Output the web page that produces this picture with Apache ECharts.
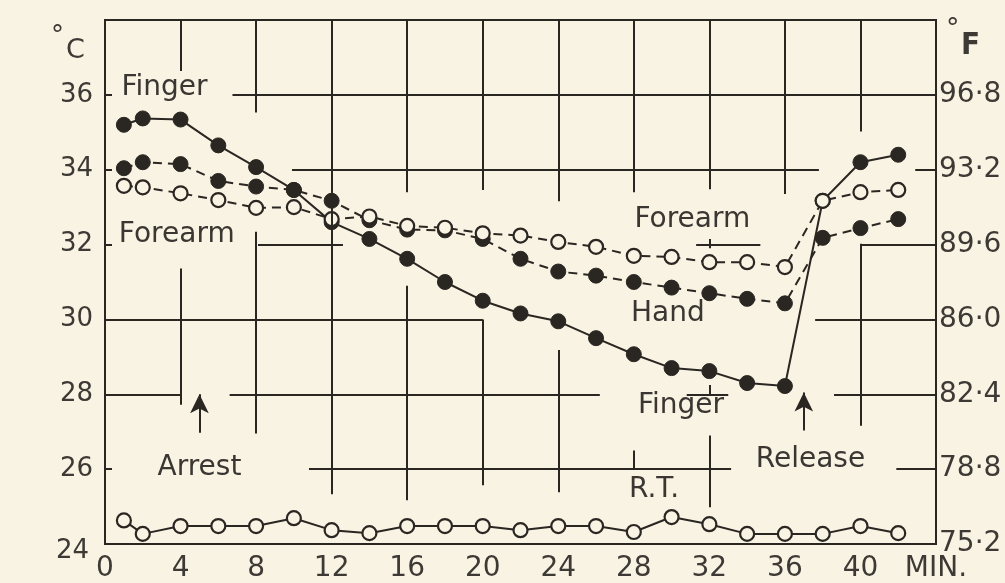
<!DOCTYPE html>
<html>
<head>
<meta charset="utf-8">
<script src="https://cdn.jsdelivr.net/npm/echarts@6/dist/echarts.min.js"></script>
<style>
  html, body { margin: 0; padding: 0; background: #f9f3e3; }
  #chart { width: 1005px; height: 583px; }
</style>
</head>
<body>
<div id="chart"></div>
<script>
// Time of each reading (minutes)
const minutes = [1, 2, 4, 6, 8, 10, 12, 14, 16, 18, 20, 22, 24, 26, 28, 30, 32, 34, 36, 38, 40, 42];

// Skin and room temperatures (°C)
const finger  = [35.2, 35.37, 35.34, 34.65, 34.07, 33.46, 32.6, 32.15, 31.62, 31.0, 30.5, 30.16, 29.95, 29.5, 29.07, 28.7, 28.62, 28.3, 28.22, 33.17, 34.2, 34.4];
const hand    = [34.04, 34.2, 34.15, 33.7, 33.55, 33.46, 33.17, 32.65, 32.4, 32.38, 32.15, 31.62, 31.28, 31.17, 31.0, 30.85, 30.7, 30.55, 30.43, 32.18, 32.44, 32.68];
const forearm = [33.57, 33.53, 33.37, 33.19, 32.98, 33.0, 32.68, 32.75, 32.5, 32.45, 32.3, 32.24, 32.07, 31.94, 31.7, 31.67, 31.53, 31.53, 31.4, 33.17, 33.4, 33.46];
const roomTemp = [24.63, 24.27, 24.48, 24.48, 24.48, 24.69, 24.37, 24.29, 24.48, 24.48, 24.48, 24.37, 24.48, 24.48, 24.32, 24.72, 24.53, 24.27, 24.27, 24.27, 24.48, 24.29];

// Tick labels
const xTickLabels = ['0', '4', '8', '12', '16', '20', '24', '28', '32', '36', '40', 'MIN.'];
const celsiusTicks = ['24', '26', '28', '30', '32', '34', '36', ''];
const fahrenheitTicks = ['75·2', '78·8', '82·4', '86·0', '89·6', '93·2', '96·8', ''];

// Arrest / release moments (minutes)
const arrestAt = 5;
const releaseAt = 37;

// Curve names written on the plot: [text, minute, °C]
const curveNotes = [
  ['Finger', 3.15, 36.2],
  ['Forearm', 3.8, 32.27],
  ['Forearm', 31.1, 32.66],
  ['Hand', 29.8, 30.16],
  ['Finger', 30.5, 27.7],
  ['Arrest', 5.0, 26.03],
  ['Release', 37.35, 26.24],
  ['R.T.', 29.07, 25.44]
];

// Ruled paper: the grid is drawn as broken rules, in axis units
const ruleH = [
  [36, 6.75, 44],
  [34, 9.9, 37.8], [34, 42.9, 44],
  [32, 8.1, 12.6], [32, 31.3, 34.7], [32, 40, 44],
  [30, 0, 20], [30, 37.6, 44],
  [28, 0, 4], [28, 6.6, 26.2], [28, 30.8, 33.0], [28, 38.6, 44],
  [26, 10.8, 33.15], [26, 41.9, 44]
];
const ruleV = [
  [4, 38, 36.64], [4, 31.36, 27.72],
  [8, 38, 35.53], [8, 32.34, 26.95],
  [12, 38, 25.33],
  [16, 38, 33.4], [16, 30.9, 25.17],
  [20, 38, 33.46], [20, 30, 25.57],
  [24, 38, 33.16], [24, 29.18, 25.38],
  [28, 38, 33.4], [28, 26.5, 26],
  [32, 38, 33.48], [32, 32.15, 31.9], [32, 28.25, 27.96], [32, 26.9, 24.98],
  [36, 38, 33.35],
  [40, 38, 35.02], [40, 32.02, 27.16]
];

const ink = '#2a2622';
const paper = '#f9f3e3';
const textInk = '#3d3935';
const font = 'DejaVu Sans';

const pairs = ys => minutes.map((m, i) => [m, ys[i]]);

const ruleLines = [
  ...ruleH.map(([y, x1, x2]) => [{ coord: [x1, y] }, { coord: [x2, y] }]),
  ...ruleV.map(([x, y1, y2]) => [{ coord: [x, y1] }, { coord: [x, y2] }])
];

function curve(name, ys, filled, dashed) {
  return {
    name,
    type: 'line',
    data: pairs(ys),
    z: 4,
    symbol: 'circle',
    symbolSize: filled ? 15 : 14,
    showSymbol: true,
    lineStyle: { color: ink, width: 2, type: dashed ? [9, 6] : 'solid' },
    itemStyle: filled
      ? { color: ink, borderColor: ink, borderWidth: 1 }
      : { color: paper, borderColor: ink, borderWidth: 2.2 },
    emphasis: { disabled: true },
    animation: false
  };
}

const chart = echarts.init(document.getElementById('chart'));
chart.setOption({
  backgroundColor: paper,
  animation: false,
  grid: {
    left: 105, right: 69, top: 20, bottom: 36,
    show: true, borderColor: ink, borderWidth: 2, backgroundColor: 'transparent'
  },
  xAxis: {
    type: 'value', min: 0, max: 44, interval: 4,
    axisLine: { show: false }, axisTick: { show: false }, splitLine: { show: false },
    axisLabel: {
      margin: 11, fontFamily: font, fontSize: 28, color: textInk,
      formatter: v => xTickLabels[Math.round(v / 4)]
    }
  },
  yAxis: [
    {
      type: 'value', min: 24, max: 38, interval: 2, position: 'left',
      axisLine: { show: false }, splitLine: { show: false },
      axisTick: { show: true, inside: true, length: 7, lineStyle: { color: ink, width: 2 } },
      axisLabel: {
        margin: 12, fontFamily: font, fontSize: 26, color: textInk,
        formatter: v => {
          const t = celsiusTicks[Math.round((v - 24) / 2)];
          return v === 24 ? '{low|' + t + '}' : t;
        },
        rich: { low: { fontFamily: font, fontSize: 26, color: textInk, padding: [14, 4, 0, 0] } }
      }
    },
    {
      type: 'value', min: 24, max: 38, interval: 2, position: 'right',
      axisLine: { show: false }, splitLine: { show: false }, axisTick: { show: false },
      axisLabel: {
        margin: 3, fontFamily: font, fontSize: 28, color: textInk,
        formatter: v => fahrenheitTicks[Math.round((v - 24) / 2)]
      }
    }
  ],
  graphic: [
    { type: 'text', left: 51, top: 24, style: { text: '°', font: '26px "DejaVu Sans"', fill: textInk } },
    { type: 'text', left: 66, top: 37, style: { text: 'C', font: '27px "DejaVu Sans"', fill: textInk } },
    { type: 'text', left: 946, top: 16, style: { text: '°', font: '27px "DejaVu Sans"', fill: textInk } },
    { type: 'text', left: 961, top: 30, style: { text: 'F', font: 'bold 31px "DejaVu Sans Condensed", "DejaVu Sans"', fill: textInk } }
  ],
  series: [
    {
      name: 'rules', type: 'line', data: [], z: 1, silent: true,
      markLine: {
        silent: true, symbol: ['none', 'none'], animation: false,
        label: { show: false },
        lineStyle: { color: ink, width: 2, type: 'solid' },
        emphasis: { disabled: true },
        data: ruleLines
      }
    },
    {
      name: 'arrows', type: 'line', data: [], z: 2, silent: true,
      markLine: {
        silent: true, symbol: ['none', 'arrow'], symbolSize: [14, 19], animation: false,
        label: { show: false },
        lineStyle: { color: ink, width: 2, type: 'solid' },
        emphasis: { disabled: true },
        data: [
          [{ coord: [arrestAt, 26.97] }, { coord: [arrestAt, 28.0] }],
          [{ coord: [releaseAt, 27.03] }, { coord: [releaseAt, 28.05] }]
        ]
      }
    },
    curve('Room', roomTemp, false, false),
    curve('Finger', finger, true, false),
    curve('Hand', hand, true, true),
    curve('Forearm', forearm, false, true),
    {
      name: 'notes', type: 'scatter', z: 5, silent: true,
      symbolSize: 0,
      data: curveNotes.map(([t, x, y]) => ({ name: t, value: [x, y] })),
      label: {
        show: true, position: 'inside', formatter: '{b}',
        fontFamily: font, fontSize: 28, color: '#3a3632',
        textBorderWidth: 0, opacity: 1
      },
      emphasis: { disabled: true }
    }
  ]
});
</script>
</body>
</html>
